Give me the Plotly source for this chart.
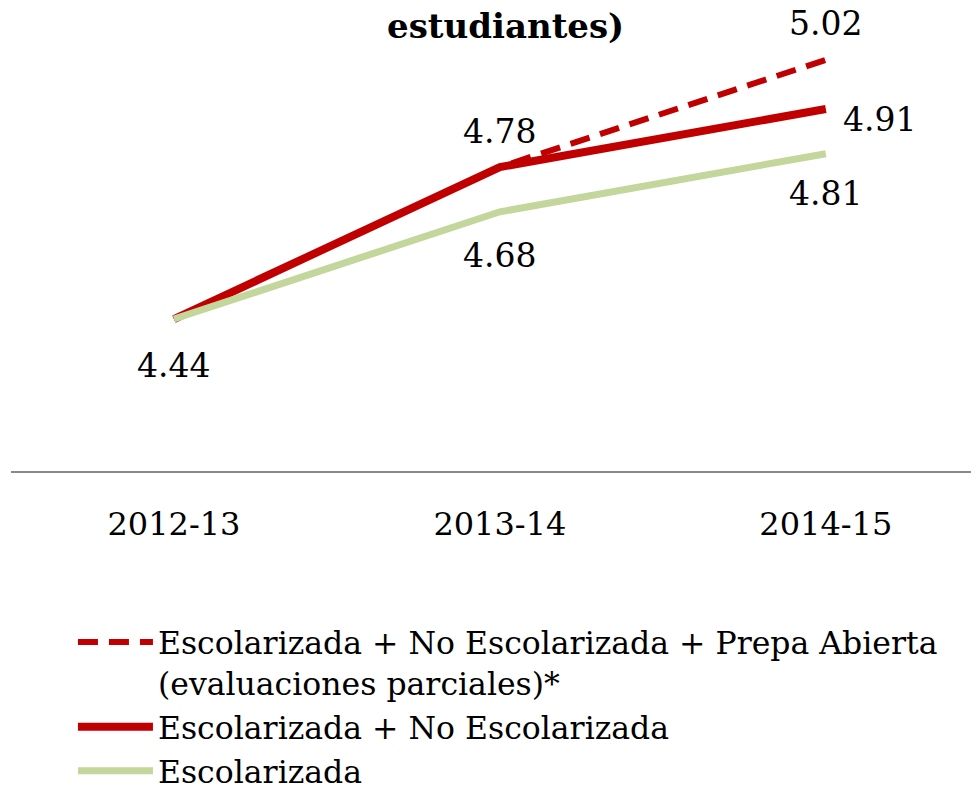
import plotly.graph_objs as go

categories = ["2012-13", "2013-14", "2014-15"]
prepa_abierta = [4.44, 4.78, 5.02]
no_escolarizada = [4.44, 4.78, 4.91]
escolarizada = [4.44, 4.68, 4.81]

names = [
    "Escolarizada + No Escolarizada + Prepa Abierta<br>(evaluaciones parciales)*",
    "Escolarizada + No Escolarizada",
    "Escolarizada",
]

FONT = "DejaVu Serif"
RED = "#C00000"
GREEN = "#C3D69B"

fig = go.Figure()
fig.add_trace(go.Scatter(x=categories, y=prepa_abierta, mode="lines", name=names[0],
                         line=dict(color=RED, width=6, dash="20px,11px")))
fig.add_trace(go.Scatter(x=categories, y=no_escolarizada, mode="lines", name=names[1],
                         line=dict(color=RED, width=8)))
fig.add_trace(go.Scatter(x=categories, y=escolarizada, mode="lines", name=names[2],
                         line=dict(color=GREEN, width=7)))

# data labels: (series, index, xshift, yshift, xanchor)
labels = [
    (escolarizada, 0, 0, -46, "center"),
    (no_escolarizada, 1, 0, 36, "center"),
    (escolarizada, 1, 0, -44, "center"),
    (prepa_abierta, 2, 0, 36, "center"),
    (no_escolarizada, 2, 15, -10, "left"),
    (escolarizada, 2, 0, -40, "center"),
]
for series, i, dx, dy, anchor in labels:
    fig.add_annotation(x=categories[i], y=series[i], text="{:.2f}".format(series[i]),
                       showarrow=False, xshift=dx, yshift=dy, xanchor=anchor,
                       font=dict(family=FONT, size=33, color="black"))

fig.add_annotation(x=0.5, y=1, xref="paper", yref="paper", text="<b>estudiantes)</b>",
                   showarrow=False, yanchor="bottom", yshift=-40, xshift=10,
                   font=dict(family=FONT, size=34, color="black"))

# page has an 8px body margin, so the figure is 8px smaller than the window
fig.update_layout(
    width=971, height=802,
    margin=dict(l=3, r=0, t=0, b=339, autoexpand=False),
    paper_bgcolor="white", plot_bgcolor="white",
    font=dict(family=FONT, size=32, color="black"),
    showlegend=True,
    legend=dict(x=0.064, y=-0.311, xanchor="left", yanchor="top", valign="top",
                font=dict(family=FONT, size=31.5, color="black"),
                itemwidth=75, bgcolor="rgba(0,0,0,0)"),
    xaxis=dict(range=[-0.5, 2.47], showgrid=False, zeroline=False,
               showline=True, linecolor="#898989", linewidth=2,
               ticks="", ticklabelstandoff=24,
               tickfont=dict(family=FONT, size=32, color="black")),
    yaxis=dict(range=[4.10, 5.136], showgrid=False, zeroline=False,
               showline=False, showticklabels=False, ticks=""),
)

fig.write_html("out.html")
